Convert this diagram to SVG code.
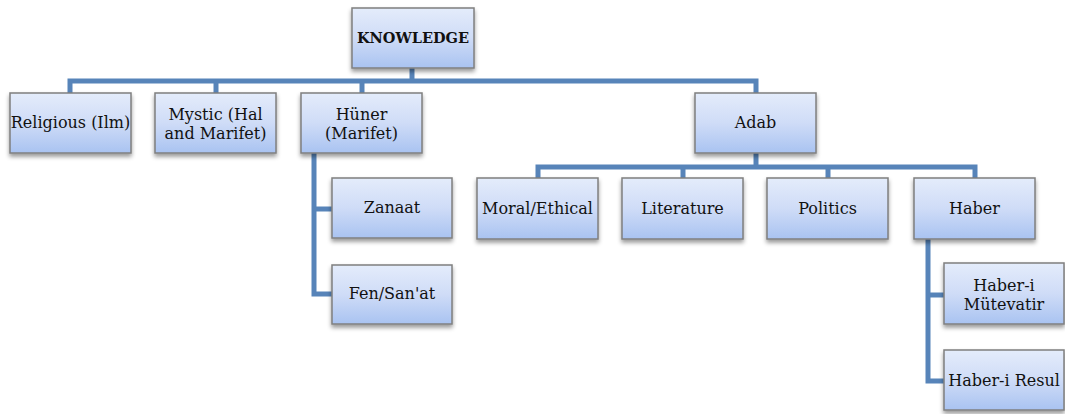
<svg xmlns="http://www.w3.org/2000/svg" width="1065" height="414" viewBox="0 0 1065 414">
  <defs>
    <linearGradient id="boxFill" x1="0" y1="0" x2="0" y2="1">
      <stop offset="0" stop-color="#e4ecfb"/>
      <stop offset="0.5" stop-color="#cfdcf7"/>
      <stop offset="1" stop-color="#a9c3f1"/>
    </linearGradient>
    <filter id="shadow" x="-10%" y="-10%" width="125%" height="135%">
      <feDropShadow dx="0" dy="3" stdDeviation="2" flood-color="#000" flood-opacity="0.4"/>
    </filter>
  </defs>
  <style>
    .box { fill: url(#boxFill); stroke: #7f7f7f; stroke-width: 1.5; filter: url(#shadow); }
    .lbl { font-family: "DejaVu Serif", "Liberation Serif", serif; font-size: 16px; fill: #111; text-anchor: middle; }
    .root { font-weight: bold; font-size: 14.5px; }
    .conn { fill: none; stroke: #5784b9; stroke-width: 5; stroke-linejoin: miter; }
  </style>

  <!-- connectors -->
  <g id="connectors">
    <path class="conn" d="M412 67 V81"/>
    <path class="conn" d="M70 94 V81 H756 V94"/>
    <path class="conn" d="M216 81 V94"/>
    <path class="conn" d="M362 81 V94"/>
    <path class="conn" d="M756 153 V167"/>
    <path class="conn" d="M538 179 V167 H975 V179"/>
    <path class="conn" d="M683 167 V179"/>
    <path class="conn" d="M828 167 V179"/>
    <path class="conn" d="M314 153 V294 H332"/>
    <path class="conn" d="M314 209 H332"/>
    <path class="conn" d="M928 239 V381 H944"/>
    <path class="conn" d="M928 295 H944"/>
  </g>

  <g id="knowledge">
    <rect class="box" x="352" y="8" width="122" height="60"/>
    <text class="lbl root" x="413" y="43">KNOWLEDGE</text>
  </g>
  <g id="religious">
    <rect class="box" x="10" y="93" width="121" height="60"/>
    <text class="lbl" x="70.5" y="128">Religious (Ilm)</text>
  </g>
  <g id="mystic">
    <rect class="box" x="155" y="93" width="121" height="60"/>
    <text class="lbl" x="215.5" y="120">Mystic (Hal</text>
    <text class="lbl" x="215.5" y="139">and Marifet)</text>
  </g>
  <g id="huner">
    <rect class="box" x="301" y="93" width="121" height="60"/>
    <text class="lbl" x="361.5" y="120">Hüner</text>
    <text class="lbl" x="361.5" y="139">(Marifet)</text>
  </g>
  <g id="adab">
    <rect class="box" x="695" y="93" width="121" height="60"/>
    <text class="lbl" x="755.5" y="128">Adab</text>
  </g>
  <g id="zanaat">
    <rect class="box" x="332" y="178" width="120" height="60"/>
    <text class="lbl" x="392" y="213">Zanaat</text>
  </g>
  <g id="fen-sanat">
    <rect class="box" x="332" y="265" width="120" height="59"/>
    <text class="lbl" x="392" y="299">Fen/San'at</text>
  </g>
  <g id="moral-ethical">
    <rect class="box" x="477" y="178" width="121" height="61"/>
    <text class="lbl" x="537.5" y="214">Moral/Ethical</text>
  </g>
  <g id="literature">
    <rect class="box" x="622" y="178" width="121" height="61"/>
    <text class="lbl" x="682.5" y="214">Literature</text>
  </g>
  <g id="politics">
    <rect class="box" x="767" y="178" width="121" height="61"/>
    <text class="lbl" x="827.5" y="214">Politics</text>
  </g>
  <g id="haber">
    <rect class="box" x="914" y="178" width="121" height="61"/>
    <text class="lbl" x="974.5" y="214">Haber</text>
  </g>
  <g id="haber-i-mutevatir">
    <rect class="box" x="944" y="263" width="120" height="61"/>
    <text class="lbl" x="1004" y="291">Haber-i</text>
    <text class="lbl" x="1004" y="310">Mütevatir</text>
  </g>
  <g id="haber-i-resul">
    <rect class="box" x="944" y="350" width="120" height="60"/>
    <text class="lbl" x="1004" y="386">Haber-i Resul</text>
  </g>
</svg>
